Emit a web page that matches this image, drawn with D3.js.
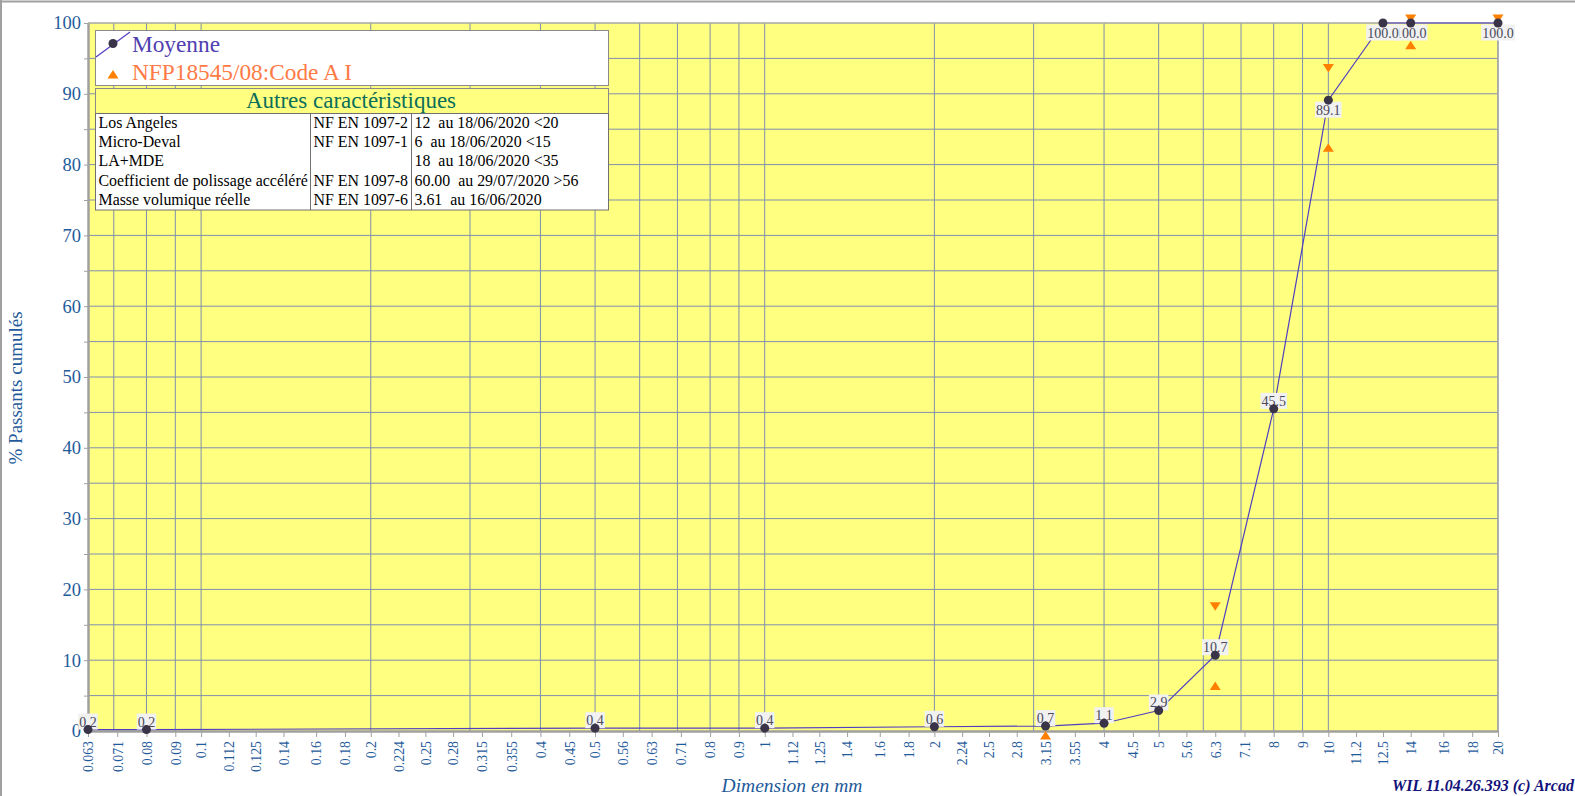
<!DOCTYPE html>
<html>
<head>
<meta charset="utf-8">
<script src="https://cdn.jsdelivr.net/npm/d3@7"></script>
<style>
  body { margin: 0; background: #fff; }
  svg { display: block; font-family: "Liberation Serif", "Times New Roman", serif; }
  .grid line { stroke: #7f8fae; stroke-width: 1; }
  .axis path, .axis line { stroke: #a0a0a0; }
  .axis text { fill: #1f5b9b; }
  .pre { white-space: pre; }
</style>
</head>
<body>
<div id="chart"></div>
<script>
// sieve sizes shown on the x axis (mm)
const sieveTicks = [0.063, 0.071, 0.08, 0.09, 0.1, 0.112, 0.125, 0.14, 0.16, 0.18, 0.2, 0.224,
  0.25, 0.28, 0.315, 0.355, 0.4, 0.45, 0.5, 0.56, 0.63, 0.71, 0.8, 0.9, 1, 1.12, 1.25, 1.4,
  1.6, 1.8, 2, 2.24, 2.5, 2.8, 3.15, 3.55, 4, 4.5, 5, 5.6, 6.3, 7.1, 8, 9, 10, 11.2, 12.5,
  14, 16, 18, 20];

// Moyenne curve
const moyenneSieves = [0.063, 0.08, 0.5, 1, 2, 3.15, 4, 5, 6.3, 8, 10, 12.5, 14, 20];
const moyenneValues = [0.2, 0.2, 0.4, 0.4, 0.6, 0.7, 1.1, 2.9, 10.7, 45.5, 89.1, 100.0, 100.0, 100.0];

// NFP18545/08:Code A I limits
const upperSieves = [6.3, 10, 14, 20];
const upperValues = [17, 93, 100, 100];
const lowerSieves = [3.15, 6.3, 10, 14];
const lowerValues = [0, 7, 83, 97.5];

const yLabelTicks = [0, 10, 20, 30, 40, 50, 60, 70, 80, 90, 100];

const tableRows = [
  ["Los Angeles", "NF EN 1097-2", "12  au 18/06/2020 <20"],
  ["Micro-Deval", "NF EN 1097-1", "6  au 18/06/2020 <15"],
  ["LA+MDE", "", "18  au 18/06/2020 <35"],
  ["Coefficient de polissage accéléré", "NF EN 1097-8", "60.00  au 29/07/2020 >56"],
  ["Masse volumique réelle", "NF EN 1097-6", "3.61  au 16/06/2020"]
];

const width = 1575, height = 796;
const margin = {top: 23, right: 77, bottom: 65, left: 88};

const svg = d3.select("#chart").append("svg")
  .attr("width", width)
  .attr("height", height);

// outer frame (top + left)
svg.append("line").attr("x1", 0).attr("x2", width).attr("y1", 1.5).attr("y2", 1.5)
  .style("stroke", "#a0a0a0").style("stroke-width", 2);
svg.append("line").attr("x1", 1).attr("x2", 1).attr("y1", 0).attr("y2", height)
  .style("stroke", "#a0a0a0").style("stroke-width", 2);

let x = d3.scaleLog().domain([0.063, 20]).range([margin.left, width - margin.right]);
let y = d3.scaleLinear().domain([0, 100]).range([height - margin.bottom, margin.top]);

// plot background
svg.append("rect")
  .attr("x", x.range()[0]).attr("y", y(100))
  .attr("width", x.range()[1] - x.range()[0])
  .attr("height", y(0) - y(100))
  .style("fill", "#ffff80");

// grid
let grid = svg.append("g").attr("class", "grid");
grid.selectAll(".vx").data(x.ticks()).enter().append("line")
  .attr("x1", d => x(d)).attr("x2", d => x(d))
  .attr("y1", y(0)).attr("y2", y(100));
grid.selectAll(".hy").data(y.ticks(20).filter(d => d > 0 && d < 100)).enter().append("line")
  .attr("x1", x.range()[0]).attr("x2", x.range()[1])
  .attr("y1", d => y(d)).attr("y2", d => y(d));

// top / right border
svg.append("path")
  .attr("d", "M" + x.range()[0] + "," + y(100) + "H" + x.range()[1] + "V" + y(0))
  .style("fill", "none").style("stroke", "#a8a8a8").style("stroke-width", 1.5);

// X axis
let xAxis = svg.append("g")
  .attr("class", "axis")
  .attr("transform", "translate(0," + y(0) + ")")
  .call(d3.axisBottom(x).tickValues(sieveTicks).tickFormat(d => String(d)).tickSize(6).tickSizeOuter(0));
xAxis.select(".domain").style("stroke-width", 2.5);
xAxis.selectAll("text")
  .attr("y", 0)
  .attr("x", -10)
  .attr("dy", ".35em")
  .attr("transform", "rotate(-90)")
  .style("text-anchor", "end")
  .style("font-size", "13.8px")
  .style("font-family", "Liberation Serif");

// Y axis
let yAxis = svg.append("g")
  .attr("class", "axis")
  .attr("transform", "translate(" + x.range()[0] + ",0)")
  .call(d3.axisLeft(y).tickValues(y.ticks(20)).tickSize(4).tickPadding(3)
    .tickFormat(d => yLabelTicks.indexOf(d) >= 0 ? d : "").tickSizeOuter(0));
yAxis.select(".domain").style("stroke-width", 2.5);
yAxis.selectAll("text")
  .style("font-size", "18.5px")
  .style("font-family", "Liberation Serif");

// axis titles
svg.append("text")
  .attr("transform", "translate(22,388) rotate(-90)")
  .style("text-anchor", "middle")
  .style("font-size", "19px")
  .style("fill", "#1f5b9b")
  .text("% Passants cumulés");

svg.append("text")
  .attr("x", 792).attr("y", 792)
  .style("text-anchor", "middle")
  .style("font-size", "19.5px")
  .style("font-style", "italic")
  .style("fill", "#1f5b9b")
  .text("Dimension en mm");

svg.append("text")
  .attr("x", 1392).attr("y", 791)
  .style("font-size", "16px")
  .style("font-style", "italic")
  .style("font-weight", "bold")
  .style("fill", "#12127a")
  .text("WIL 11.04.26.393 (c) Arcad");

// limit triangles
const triW = 5.5, triH = 8.5;
let limits = svg.append("g");
limits.selectAll(".up").data(lowerSieves).enter().append("path")
  .attr("transform", (d, i) => "translate(" + x(d) + "," + y(lowerValues[i]) + ")")
  .attr("d", "M0,0L" + triW + "," + triH + "L" + (-triW) + "," + triH + "Z")
  .style("fill", "#ff8000");
limits.selectAll(".down").data(upperSieves).enter().append("path")
  .attr("transform", (d, i) => "translate(" + x(d) + "," + y(upperValues[i]) + ")")
  .attr("d", "M0,0L" + triW + "," + (-triH) + "L" + (-triW) + "," + (-triH) + "Z")
  .style("fill", "#ff8000");

// Moyenne line
let pts = moyenneSieves.map((d, i) => ({s: d, v: moyenneValues[i]}));
svg.append("path")
  .datum(pts)
  .attr("d", d3.line().x(d => x(d.s)).y(d => y(d.v)))
  .style("fill", "none")
  .style("stroke", "#5040c0")
  .style("stroke-width", 1.2);

// value labels (drawn last-first so the earlier ones stay on top)
let labels = svg.append("g");
pts.slice().reverse().forEach(function(d) {
  let below = d.v > 85;
  let g = labels.append("g");
  let t = g.append("text")
    .attr("x", x(d.s))
    .attr("y", below ? y(d.v) + 14.5 : y(d.v) - 3)
    .style("text-anchor", "middle")
    .style("font-size", "14px")
    .style("fill", "#4a4a5a")
    .text(d.v.toFixed(1));
  let bb = t.node().getBBox();
  g.insert("rect", "text")
    .attr("x", bb.x - 1).attr("width", bb.width + 2)
    .attr("y", below ? y(d.v) + 1.5 : y(d.v) - 16)
    .attr("height", 16)
    .style("fill", "#f1f1f1");
});

svg.append("g").selectAll("circle").data(pts).enter().append("circle")
  .attr("cx", d => x(d.s))
  .attr("cy", d => y(d.v))
  .attr("r", 4.5)
  .style("fill", "#3a3448");

// legend
let lg = svg.append("g");
lg.append("rect").attr("x", 95.5).attr("y", 30.5).attr("width", 513).attr("height", 55)
  .style("fill", "#fff").style("stroke", "#8a8a8a");
lg.append("line").attr("x1", 96).attr("y1", 57).attr("x2", 130).attr("y2", 32)
  .style("stroke", "#5040c0").style("stroke-width", 1.2);
lg.append("circle").attr("cx", 113).attr("cy", 43.5).attr("r", 4.5).style("fill", "#3a3448");
lg.append("text").attr("x", 132).attr("y", 52).style("font-size", "23.3px")
  .style("fill", "#5040b0").text("Moyenne");
lg.append("path").attr("transform", "translate(113,70)")
  .attr("d", "M0,0L" + triW + "," + triH + "L" + (-triW) + "," + triH + "Z")
  .style("fill", "#ff8000");
lg.append("text").attr("x", 132).attr("y", 79.5).style("font-size", "23.3px")
  .style("fill", "#ff7a45").text("NFP18545/08:Code A I");

// Autres caractéristiques
let tb = svg.append("g");
tb.append("rect").attr("x", 95.5).attr("y", 88.5).attr("width", 513).attr("height", 25)
  .style("fill", "#ffff80").style("stroke", "#8a8a8a");
tb.append("text").attr("x", 351).attr("y", 108).style("text-anchor", "middle")
  .style("font-size", "23px").style("fill", "#0a6e5a").text("Autres caractéristiques");
const rowH = 19.2, tableTop = 113.5;
tb.append("rect").attr("x", 95.5).attr("y", tableTop).attr("width", 513)
  .attr("height", rowH * tableRows.length + 0.5)
  .style("fill", "#fff").style("stroke", "#707070");
const colX = [95.5, 310.5, 411.5];
[colX[1], colX[2]].forEach(function(cx) {
  tb.append("line").attr("x1", cx).attr("x2", cx)
    .attr("y1", tableTop).attr("y2", tableTop + rowH * tableRows.length + 0.5)
    .style("stroke", "#707070");
});
tableRows.forEach(function(row, i) {
  row.forEach(function(cell, j) {
    tb.append("text")
      .attr("class", "pre")
      .attr("x", colX[j] + 3)
      .attr("y", tableTop + rowH * i + 14.5)
      .style("font-size", "15.9px")
      .style("fill", "#000")
      .text(cell);
  });
});
</script>
</body>
</html>
